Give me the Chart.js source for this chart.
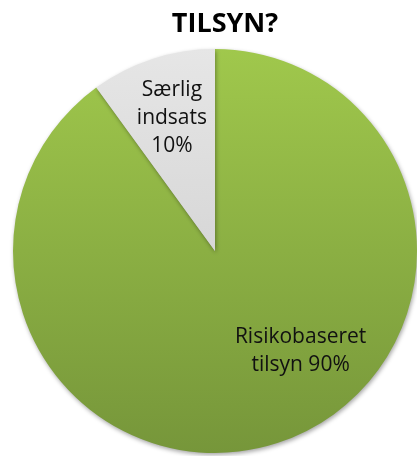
<!DOCTYPE html>
<html>
<head>
<meta charset="utf-8">
<script src="https://cdn.jsdelivr.net/npm/chart.js@4"></script>
<style>
  html, body { margin: 0; padding: 0; background: #fff; }
  #wrap { width: 417px; height: 456px; }
</style>
</head>
<body>
<div id="wrap"><canvas id="pie"></canvas></div>
<script>
// Data
const titleText = 'TILSYN?';
const categories = ['Risikobaseret tilsyn', 'Særlig indsats'];
const shares = [90, 10];
const labelLines = [['Risikobaseret', 'tilsyn 90%'], ['Særlig', 'indsats', '10%']];

// label placement (angle in slice 0..1, distance as fraction of radius)
const labelPos = [{ t: 0.43, d: 0.65 }, { t: 0.5, d: 0.69 }];

function fillFor(ctx) {
  const area = ctx.chart.chartArea;
  if (!area) return '#8db33f';
  const c = ctx.chart.ctx;
  const g = c.createLinearGradient(0, area.top, 0, area.bottom);
  if (ctx.dataIndex === 0) {
    g.addColorStop(0, '#a0c84c');
    g.addColorStop(1, '#76963a');
  } else {
    g.addColorStop(0, '#e6e6e6');
    g.addColorStop(1, '#c8c8c8');
  }
  return g;
}

const shadowPlugin = {
  id: 'shadow',
  beforeDatasetDraw(chart) {
    const c = chart.ctx;
    c.save();
    c.shadowColor = 'rgba(0,0,0,0.35)';
    c.shadowBlur = 4;
    c.shadowOffsetX = 1;
    c.shadowOffsetY = 2;
  },
  afterDatasetDraw(chart) {
    chart.ctx.restore();
  }
};

const textPlugin = {
  id: 'texts',
  afterDraw(chart) {
    const c = chart.ctx;
    const area = chart.chartArea;
    c.save();
    // title
    c.fillStyle = '#000';
    c.font = 'bold 27px "Open Sans", sans-serif';
    c.textAlign = 'center';
    c.textBaseline = 'middle';
    c.fillText(titleText, (area.left + area.right) / 2 + 10, 24);

    // slice labels
    c.font = '21px "Open Sans", sans-serif';
    c.fillStyle = '#111';
    const meta = chart.getDatasetMeta(0);
    meta.data.forEach((arc, i) => {
      const p = arc.getProps(['x', 'y', 'startAngle', 'endAngle', 'outerRadius'], true);
      const a = p.startAngle + (p.endAngle - p.startAngle) * labelPos[i].t;
      const r = p.outerRadius * labelPos[i].d;
      const cx = p.x + Math.cos(a) * r;
      const cy = p.y + Math.sin(a) * r;
      const lines = labelLines[i];
      const lh = 28;
      lines.forEach((ln, k) => {
        c.fillText(ln, cx, cy + (k - (lines.length - 1) / 2) * lh);
      });
    });
    c.restore();
  }
};

new Chart(document.getElementById('pie'), {
  type: 'pie',
  data: {
    labels: categories,
    datasets: [{
      data: shares,
      backgroundColor: fillFor,
      borderWidth: 0
    }]
  },
  options: {
    responsive: true,
    maintainAspectRatio: false,
    animation: false,
    layout: { padding: { top: 48, left: 13, right: 0, bottom: 2 } },
    plugins: {
      legend: { display: false },
      tooltip: { enabled: false }
    }
  },
  plugins: [shadowPlugin, textPlugin]
});
</script>
</body>
</html>
